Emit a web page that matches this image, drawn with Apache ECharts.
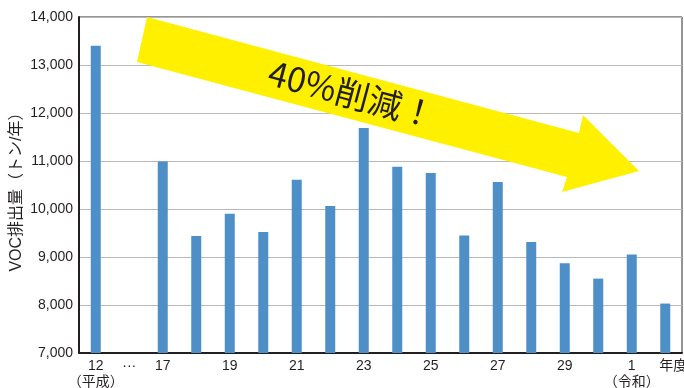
<!DOCTYPE html>
<html>
<head>
<meta charset="utf-8">
<script src="https://cdn.jsdelivr.net/npm/echarts@6/dist/echarts.min.js"></script>
<style>
html,body{margin:0;padding:0;background:#fff;}
#c{width:684px;height:388px;}
</style>
</head>
<body>
<div id="c"></div>
<script>
// Data
var categories = ['12', 'gap', '17', '18', '19', '20', '21', '22', '23', '24', '25', '26', '27', '28', '29', '30', '1', '2'];
var tickLabels = ['12\n（平成）', '···', '17', '', '19', '', '21', '', '23', '', '25', '', '27', '', '29', '', '1\n（令和）', '{e|年度}'];
var vocEmissions = [13400, null, 10990, 9440, 9900, 9520, 10610, 10060, 11690, 10880, 10750, 9450, 10560, 9310, 8870, 8550, 9050, 8030];
var yTicks = { min: 7000, max: 14000, interval: 1000 };
var yAxisTitle = 'VOC排出量（トン/年）';
var arrowText = '40%削減！';

var FONT = '"Liberation Sans", Arial, "Noto Sans CJK JP", sans-serif';
var TXT = '#231f20';

var chart = echarts.init(document.getElementById('c'), null, { renderer: 'canvas' });
chart.setOption({
  animation: false,
  grid: {
    left: 79, right: 2, top: 17, bottom: 35,
    outerBoundsMode: 'none',
    containLabel: false,
    show: true, borderColor: '#2a2a2a', borderWidth: 1, backgroundColor: 'transparent'
  },
  xAxis: {
    type: 'category',
    data: categories,
    axisLine: { show: true, lineStyle: { color: TXT, width: 2 } },
    axisTick: { show: false },
    splitLine: { show: false },
    axisLabel: {
      interval: 0,
      margin: 5,
      color: TXT,
      fontSize: 14,
      fontFamily: FONT,
      lineHeight: 16,
      hideOverlap: false,
      formatter: function (v, i) { return tickLabels[i]; },
      rich: { e: { fontSize: 14, fontFamily: FONT, color: TXT, padding: [0, 0, 0, 16] } }
    }
  },
  yAxis: {
    type: 'value',
    min: yTicks.min, max: yTicks.max, interval: yTicks.interval,
    name: yAxisTitle,
    nameLocation: 'middle',
    nameGap: 54,
    nameMoveOverlap: false,
    nameTextStyle: { color: TXT, fontSize: 16, fontFamily: FONT, padding: [0, 0, 0, -6] },
    axisLine: { show: true, lineStyle: { color: TXT, width: 2 } },
    axisTick: { show: false },
    splitLine: { show: true, lineStyle: { color: '#b8b8b8', width: 1 } },
    axisLabel: {
      margin: 6,
      color: TXT,
      fontSize: 14,
      fontFamily: FONT,
      formatter: function (v) { return v.toLocaleString('en-US'); }
    }
  },
  series: [{
    type: 'bar',
    data: vocEmissions,
    barWidth: 10,
    itemStyle: { color: '#4e8fc8' },
    z: 2
  }],
  graphic: [
    {
      type: 'polygon',
      z: 10,
      shape: { points: [[147, 17], [579, 133], [583, 115], [639, 171], [562, 192], [567, 177], [137, 62]] },
      style: { fill: '#fff000' }
    },
    {
      type: 'text',
      z: 11,
      x: 352, y: 94,
      rotation: -0.262,
      style: {
        text: arrowText,
        fill: '#231f20',
        font: '34px "Noto Sans CJK JP", "Noto Sans", sans-serif',
        align: 'center',
        verticalAlign: 'middle'
      }
    }
  ]
});
</script>
</body>
</html>
